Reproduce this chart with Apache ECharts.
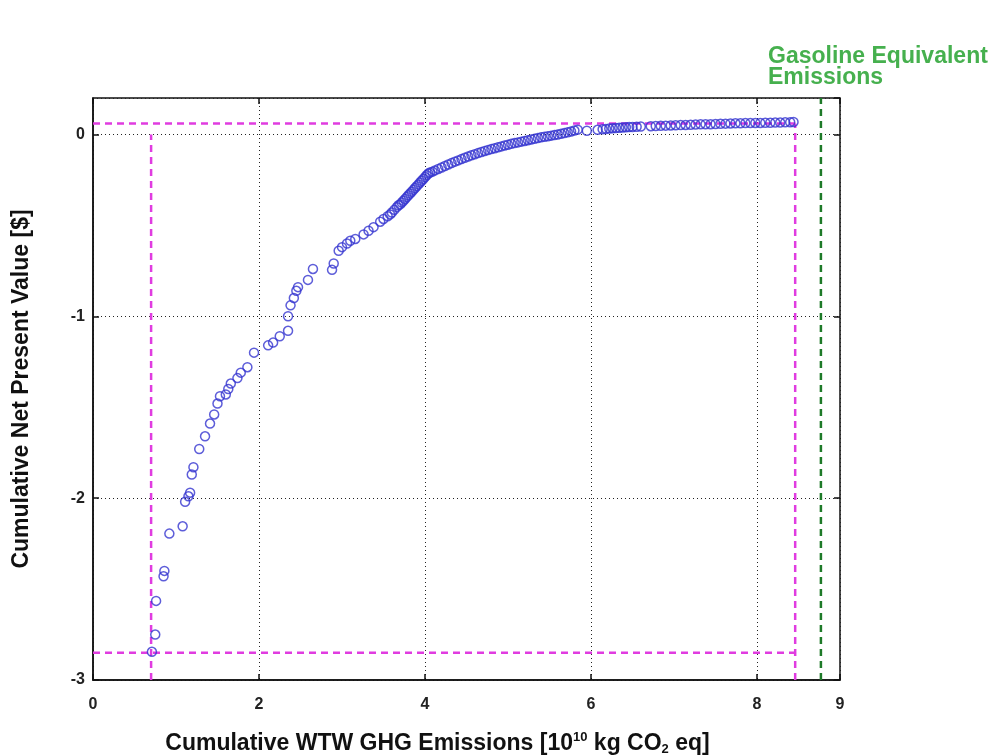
<!DOCTYPE html>
<html>
<head>
<meta charset="utf-8">
<title>Cumulative NPV vs GHG</title>
<script src="https://cdn.jsdelivr.net/npm/echarts@6/dist/echarts.min.js"></script>
<style>
  html, body { margin: 0; padding: 0; background: #fff; }
  #chart { width: 996px; height: 756px; }
</style>
</head>
<body>
<div id="chart"></div>
<script>
// cumulative emissions [1e10 kg CO2 eq] vs cumulative NPV [$]
const emissions = [
  0.71, 0.75, 0.76, 0.85, 0.86, 0.92, 1.08, 1.11, 1.15, 1.17, 1.19, 1.21, 1.28, 1.35, 1.41, 1.46,
  1.50, 1.53, 1.60, 1.63, 1.66, 1.74, 1.78, 1.86, 1.94, 2.11, 2.17, 2.25, 2.35, 2.35, 2.38, 2.42,
  2.45, 2.47, 2.59, 2.65, 2.88, 2.90, 2.96, 3.00, 3.06, 3.10, 3.16, 3.26, 3.32, 3.38,
  3.46, 3.50, 3.55, 3.58, 3.60, 3.63, 3.66, 3.68, 3.70, 3.72, 3.74, 3.76, 3.78, 3.80, 3.82, 3.84,
  3.86, 3.88, 3.90, 3.92, 3.94, 3.96, 3.98, 4.00, 4.02, 4.04, 4.06, 4.09,
  4.12, 4.16, 4.20, 4.24, 4.28, 4.32, 4.36, 4.40, 4.44, 4.48, 4.52, 4.56, 4.60, 4.64, 4.68, 4.72,
  4.76, 4.80, 4.84, 4.88, 4.92, 4.96, 5.00, 5.04, 5.08, 5.12, 5.16, 5.20, 5.24, 5.28, 5.32, 5.36,
  5.40, 5.44, 5.48, 5.52, 5.56, 5.60, 5.64, 5.68, 5.72, 5.76, 5.80, 5.84,
  5.95, 6.08, 6.14, 6.18, 6.22, 6.26, 6.30, 6.34, 6.38, 6.42, 6.46, 6.50, 6.55, 6.60, 6.72, 6.78,
  6.84, 6.90, 6.96, 7.02, 7.08, 7.14, 7.20, 7.26, 7.32, 7.38, 7.44, 7.50, 7.56, 7.62, 7.68, 7.74,
  7.80, 7.86, 7.92, 7.98, 8.04, 8.10, 8.16, 8.22, 8.28, 8.34, 8.40, 8.44
]
const npv = [
  -2.845, -2.75, -2.565, -2.43, -2.40, -2.195, -2.155, -2.02, -1.99, -1.97, -1.87, -1.83, -1.73, -1.66, -1.59, -1.54,
  -1.48, -1.44, -1.43, -1.40, -1.37, -1.34, -1.31, -1.28, -1.20, -1.16, -1.145, -1.11, -1.08, -1.00, -0.94, -0.90,
  -0.86, -0.84, -0.80, -0.74, -0.745, -0.71, -0.64, -0.62, -0.60, -0.585, -0.575, -0.55, -0.53, -0.51,
  -0.48, -0.465, -0.45, -0.44, -0.43, -0.415, -0.40, -0.39, -0.385, -0.375, -0.365, -0.355, -0.345, -0.335, -0.325, -0.315,
  -0.305, -0.295, -0.285, -0.275, -0.265, -0.255, -0.245, -0.235, -0.225, -0.215, -0.21, -0.205,
  -0.198, -0.19, -0.182, -0.174, -0.166, -0.158, -0.15, -0.143, -0.136, -0.129, -0.122, -0.115, -0.109, -0.103, -0.097, -0.091,
  -0.086, -0.081, -0.076, -0.071, -0.066, -0.061, -0.057, -0.052, -0.048, -0.044, -0.04, -0.036, -0.032, -0.028, -0.024, -0.02,
  -0.016, -0.013, -0.01, -0.007, -0.004, -0.001, 0.003, 0.007, 0.011, 0.016, 0.021, 0.026,
  0.02, 0.025, 0.028, 0.03, 0.032, 0.034, 0.035, 0.036, 0.038, 0.039, 0.04, 0.041, 0.042, 0.043, 0.045, 0.046,
  0.047, 0.048, 0.049, 0.05, 0.051, 0.052, 0.053, 0.054, 0.055, 0.056, 0.056, 0.057, 0.058, 0.059, 0.06, 0.061,
  0.061, 0.062, 0.062, 0.063, 0.063, 0.064, 0.064, 0.065, 0.065, 0.066, 0.067, 0.068
]

// bounding lines
const boundX = [0.70, 8.46]     // min / max cumulative emissions
const boundY = [-2.85, 0.06]    // min / max cumulative NPV
const gasolineX = 8.77
const xTicks = [0, 2, 4, 6, 8, 9]
const yTicks = [-3, -2, -1, 0]

const chart = echarts.init(document.getElementById('chart'))

const points = emissions.map((x, i) => [x, npv[i]])
const magenta = '#e03ce0'
const fontFam = '"Liberation Sans", Arial, Helvetica, sans-serif'

function seg(data, color, z) {
  return {
    type: 'line',
    data: data,
    symbol: 'none',
    silent: true,
    z: z,
    lineStyle: { color: color, width: 2.5, type: [7, 5] }
  }
}

const nameRich = {
  b: { fontSize: 23, fontWeight: 'bold', fontFamily: fontFam, color: '#111' },
  sup: { fontSize: 13, fontWeight: 'bold', fontFamily: fontFam, color: '#111', verticalAlign: 'top', padding: [0, 0, 12, 0] },
  sub: { fontSize: 13, fontWeight: 'bold', fontFamily: fontFam, color: '#111', verticalAlign: 'bottom', padding: [10, 0, 0, 0] }
}

const option = {
  animation: false,
  backgroundColor: '#fff',
  title: {
    text: 'Gasoline Equivalent\nEmissions',
    left: 768,
    top: 46,
    padding: 0,
    textStyle: {
      color: '#46b04e',
      fontSize: 23,
      fontWeight: 'bold',
      fontFamily: fontFam,
      lineHeight: 21
    }
  },
  grid: {
    left: 93,
    right: 156,
    top: 98,
    bottom: 76,
    outerBoundsMode: 'none',
    containLabel: false,
    show: true,
    borderColor: '#111',
    borderWidth: 1.5
  },
  xAxis: [
    {
      type: 'value',
      min: 0,
      max: 9,
      interval: 2,
      name: '{b|Cumulative WTW GHG Emissions [10}{sup|10}{b| kg CO}{sub|2}{b| eq]}',
      nameLocation: 'middle',
      nameGap: 51,
      nameTextStyle: { padding: [0, 58, 0, 0], rich: nameRich },
      axisLine: { show: true, onZero: false, lineStyle: { color: '#111', width: 1.5 } },
      axisTick: { show: true, inside: true, length: 6, lineStyle: { color: '#111', width: 1.5 } },
      axisLabel: {
        margin: 17,
        color: '#222',
        fontSize: 16,
        fontWeight: 'bold',
        fontFamily: fontFam,
        formatter: v => (xTicks.indexOf(v) >= 0 ? String(v) : '')
      },
      splitLine: { show: true, lineStyle: { color: '#222', width: 1, type: [1, 3] } }
    },
    {
      type: 'value',
      position: 'top',
      min: 0,
      max: 9,
      interval: 2,
      axisLine: { show: false, onZero: false },
      axisTick: { show: true, inside: true, length: 6, lineStyle: { color: '#111', width: 1.5 } },
      axisLabel: { show: false },
      splitLine: { show: false }
    }
  ],
  yAxis: [
    {
      type: 'value',
      min: -3,
      max: 0.2,
      interval: 1,
      name: 'Cumulative Net Present Value [$]',
      nameLocation: 'middle',
      nameGap: 60,
      nameTextStyle: { fontSize: 23, fontWeight: 'bold', fontFamily: fontFam, color: '#111' },
      axisLine: { show: true, onZero: false, lineStyle: { color: '#111', width: 1.5 } },
      axisTick: { show: true, inside: true, length: 6, lineStyle: { color: '#111', width: 1.5 } },
      axisLabel: {
        margin: 8,
        color: '#222',
        fontSize: 16,
        fontWeight: 'bold',
        fontFamily: fontFam,
        showMaxLabel: false,
        formatter: v => (yTicks.indexOf(v) >= 0 ? String(v) : '')
      },
      splitLine: { show: true, lineStyle: { color: '#222', width: 1, type: [1, 3] } }
    },
    {
      type: 'value',
      position: 'right',
      min: -3,
      max: 0.2,
      interval: 1,
      axisLine: { show: false, onZero: false },
      axisTick: { show: true, inside: true, length: 6, lineStyle: { color: '#111', width: 1.5 } },
      axisLabel: { show: false },
      splitLine: { show: false }
    }
  ],
  series: [
    seg([[0, boundY[1]], [boundX[1], boundY[1]]], magenta, 3),
    seg([[0, boundY[0]], [boundX[1], boundY[0]]], magenta, 3),
    seg([[boundX[0], -3], [boundX[0], 0]], magenta, 3),
    seg([[boundX[1], -3], [boundX[1], boundY[1]]], magenta, 3),
    seg([[gasolineX, -3], [gasolineX, 0.2]], '#1e7a28', 3),
    {
      type: 'scatter',
      data: points,
      symbol: 'circle',
      symbolSize: 9,
      z: 5,
      itemStyle: {
        color: 'rgba(0,0,0,0)',
        borderColor: '#3434d0',
        borderWidth: 1.5
      }
    }
  ]
}

chart.setOption(option)
</script>
</body>
</html>
